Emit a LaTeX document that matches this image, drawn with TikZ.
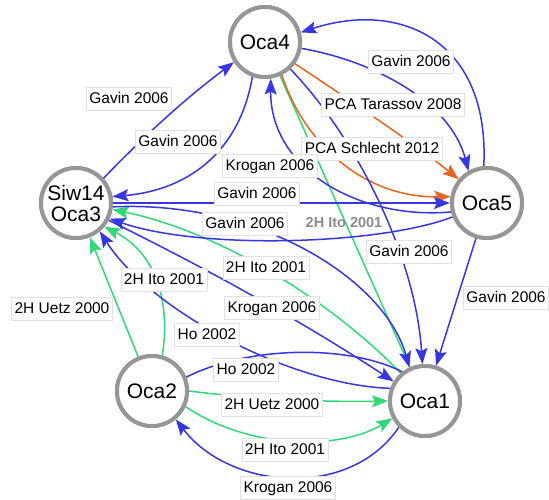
\documentclass[tikz,border=0pt]{standalone}
\usepackage{fontspec}
\setmainfont{Liberation Sans}
\usetikzlibrary{arrows.meta}
\definecolor{eblue}{RGB}{55,55,225}
\definecolor{egreen}{RGB}{50,215,120}
\definecolor{eorange}{RGB}{230,100,30}
\definecolor{ngray}{RGB}{150,150,150}
\definecolor{lgray}{RGB}{225,225,225}
\definecolor{tgray}{RGB}{140,140,140}
\begin{document}
\begin{tikzpicture}[x=1pt,y=-1pt,
  prot/.style={circle,draw=ngray,line width=4pt,fill=white,minimum size=70pt,inner sep=0pt,
    font=\fontsize{21}{21}\selectfont,align=center},
  lbl/.style={draw=lgray,line width=0.8pt,fill=white,inner xsep=3pt,inner ysep=4pt,
    text height=11.5pt,text depth=3.5pt,font=\fontsize{15.5}{17}\selectfont},
  glbl/.style={text=tgray,inner sep=1pt,font=\fontsize{14.5}{16}\bfseries\selectfont},
  ed/.style={line width=1.5pt},
  arr/.style={-{Stealth[length=16pt,width=12pt,inset=3pt]}},
  bl/.style={ed,arr,draw=eblue,color=eblue},
  gr/.style={ed,arr,draw=egreen,color=egreen},
  orr/.style={ed,arr,draw=eorange,color=eorange}]
\useasboundingbox (0,0) rectangle (549,499);

% nodes (placed first so that anchors exist; redrawn on top later)
\path (265,42) node[prot] (oca4) {Oca4}
      (76,203) node[prot] (oca3) {Siw14\\Oca3}
      (487,203) node[prot] (oca5) {Oca5}
      (152,391) node[prot] (oca2) {Oca2}
      (425,401) node[prot] (oca1) {Oca1};

% edges
\draw[ed,draw=egreen] (oca4) -- (oca1);
\draw[gr] (oca1.131) .. controls (330,300) and (220,232) .. (oca3.-10);
\draw[gr] (oca2) -- (oca3);
\draw[gr] (oca2.74) .. controls (170,310) and (160,255) .. (oca3.-40);
\draw[gr] (oca2.0) .. controls (260,400) and (330,402) .. (oca1.180);
\draw[gr] (oca2.-25) .. controls (250,450) and (340,450) .. (oca1.208);

\draw[orr] (oca4.-36) .. controls (350,100) and (420,148) .. (oca5.140);
\draw[orr] (oca4.-63) .. controls (305,145) and (365,198) .. (oca5.170);

\draw[bl] (oca3.42) .. controls (150,130) and (190,95) .. (oca4.213);
\draw[bl] (oca4.250) .. controls (240,150) and (190,190) .. (oca3.10);
\draw[bl] (oca5.95) .. controls (490,40) and (400,0) .. (oca4.15);
\draw[bl] (oca4.-10) .. controls (370,60) and (450,100) .. (oca5.120);
\draw[bl] (oca3) -- (oca5);
\draw[bl] (oca5.202) .. controls (380,245) and (200,250) .. (oca3.-25);
\draw[bl] (oca5.194) .. controls (360,220) and (270,170) .. (oca4.279);
\draw[bl] (oca3.-6) .. controls (260,200) and (385,280) .. (oca1.115);
\draw[bl] (oca4.-47) .. controls (350,130) and (415,250) .. (oca1.94);
\draw[bl] (oca5) -- (oca1);
\draw[bl] (oca3.-28) .. controls (200,265) and (300,320) .. (oca1.148);
\draw[bl] (oca1.160) .. controls (290,385) and (150,310) .. (oca3.-50);
\draw[ed,draw=eblue] (oca2.22) .. controls (250,345) and (350,345) .. (oca1.128);
\draw[bl] (oca1.225) .. controls (350,500) and (230,490) .. (oca2.-50);

% labels
\node[lbl] (l1) at (129,99) {Gavin 2006};
\node[lbl] (l2) at (178,142) {Gavin 2006};
\node[lbl] (l3) at (411,62) {Gavin 2006};
\node[lbl] (l4) at (393,105) {PCA Tarassov 2008};
\node[lbl] (l5) at (372,149) {PCA Schlecht 2012};
\node[lbl] (l6) at (270,166) {Krogan 2006};
\node[lbl] (l7) at (257,194) {Gavin 2006};
\node[lbl] (l8) at (245,224) {Gavin 2006};
\node[glbl] (l9) at (344,223) {2H Ito 2001};
\node[lbl] (l10) at (409,252) {Gavin 2006};
\node[lbl] (l11) at (506,298) {Gavin 2006};
\node[lbl] (l12) at (266,268) {2H Ito 2001};
\node[lbl] (l13) at (164,280) {2H Ito 2001};
\node[lbl] (l14) at (272,308) {Krogan 2006};
\node[lbl] (l15) at (62,309) {2H Uetz 2000};
\node[lbl] (l16) at (207,335) {Ho 2002};
\node[lbl] (l17) at (246,370) {Ho 2002};
\node[lbl] (l18) at (272,405) {2H Uetz 2000};
\node[lbl] (l19) at (285,450) {2H Ito 2001};
\node[lbl] (l20) at (288,488) {Krogan 2006};

% nodes on top
\path (265,42) node[prot] {Oca4}
      (76,203) node[prot] {Siw14\\Oca3}
      (487,203) node[prot] {Oca5}
      (152,391) node[prot] {Oca2}
      (425,401) node[prot] {Oca1};
\end{tikzpicture}
\end{document}
